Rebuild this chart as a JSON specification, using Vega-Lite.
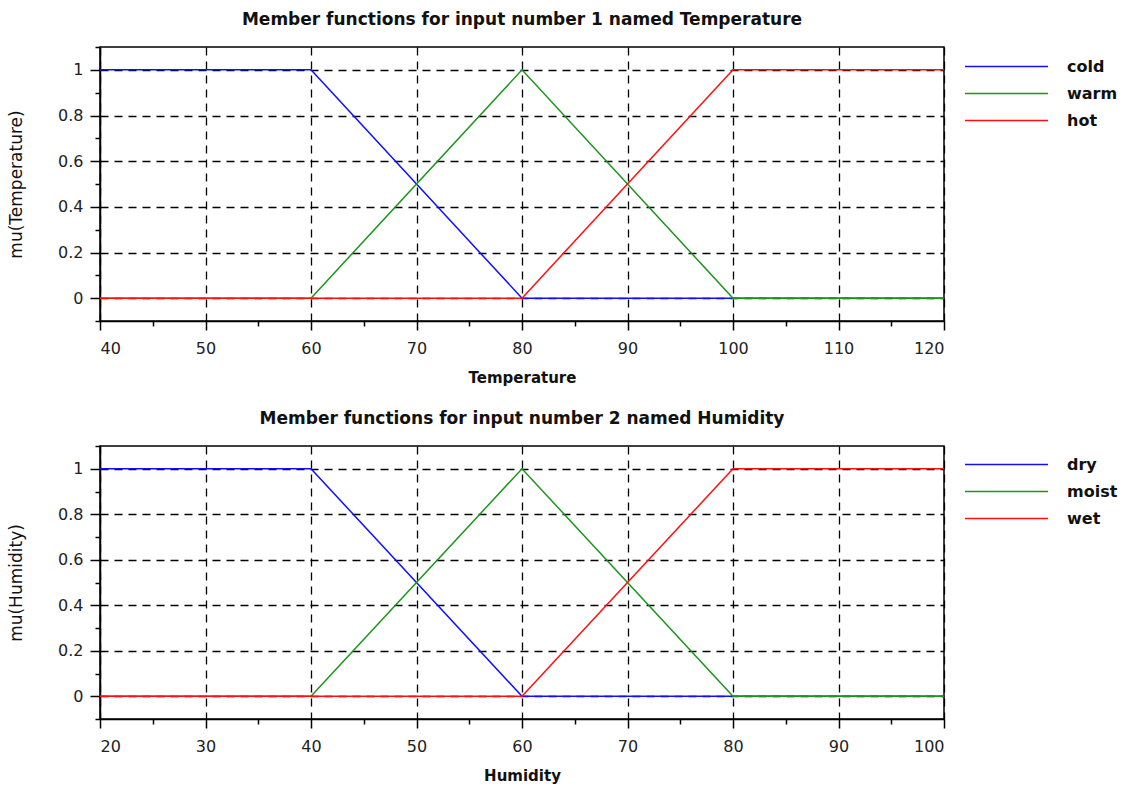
{
  "$schema": "https://vega.github.io/schema/vega-lite/v6.json",
  "background": "white",
  "padding": {"left": 6, "top": 10, "right": 5, "bottom": 2},
  "bounds": "flush",
  "spacing": 125,
  "datasets": {
    "temp": [
      {"x": 40, "mu": 1, "set": "cold"},
      {"x": 60, "mu": 1, "set": "cold"},
      {"x": 80, "mu": 0, "set": "cold"},
      {"x": 120, "mu": 0, "set": "cold"},
      {"x": 40, "mu": 0, "set": "warm"},
      {"x": 60, "mu": 0, "set": "warm"},
      {"x": 80, "mu": 1, "set": "warm"},
      {"x": 100, "mu": 0, "set": "warm"},
      {"x": 120, "mu": 0, "set": "warm"},
      {"x": 40, "mu": 0, "set": "hot"},
      {"x": 80, "mu": 0, "set": "hot"},
      {"x": 100, "mu": 1, "set": "hot"},
      {"x": 120, "mu": 1, "set": "hot"}
    ],
    "hum": [
      {"x": 20, "mu": 1, "set": "dry"},
      {"x": 40, "mu": 1, "set": "dry"},
      {"x": 60, "mu": 0, "set": "dry"},
      {"x": 100, "mu": 0, "set": "dry"},
      {"x": 20, "mu": 0, "set": "moist"},
      {"x": 40, "mu": 0, "set": "moist"},
      {"x": 60, "mu": 1, "set": "moist"},
      {"x": 80, "mu": 0, "set": "moist"},
      {"x": 100, "mu": 0, "set": "moist"},
      {"x": 20, "mu": 0, "set": "wet"},
      {"x": 60, "mu": 0, "set": "wet"},
      {"x": 80, "mu": 1, "set": "wet"},
      {"x": 100, "mu": 1, "set": "wet"}
    ]
  },
  "vconcat": [
    {
      "title": {"text": "Member functions for input number 1 named Temperature"},
      "width": 844,
      "height": 274,
      "data": {"name": "temp"},
      "layer": [
        {
          "mark": {"type": "line", "strokeWidth": 1.5},
          "encoding": {
            "x": {"field": "x", "type": "quantitative",
                  "scale": {"domain": [40, 120], "nice": false, "zero": false},
                  "axis": {"values": [40, 50, 60, 70, 80, 90, 100, 110, 120], "title": "Temperature", "grid": true}},
            "y": {"field": "mu", "type": "quantitative",
                  "scale": {"domain": [-0.1, 1.1], "nice": false, "zero": false},
                  "axis": {"values": [0, 0.2, 0.4, 0.6, 0.8, 1], "format": "~g", "title": "mu(Temperature)", "grid": true}},
            "color": {"field": "set", "type": "nominal",
                      "scale": {"domain": ["cold", "warm", "hot"], "range": ["#1010ff", "#1a961a", "#ff1010"]},
                      "legend": {"orient": "none", "legendX": 893, "legendY": 6}}
          }
        },
        {
          "mark": {"type": "point", "opacity": 0},
          "encoding": {
            "x": {"field": "x", "type": "quantitative",
                  "axis": {"orient": "bottom", "values": [45, 55, 65, 75, 85, 95, 105, 115], "labels": false, "grid": false, "domain": false, "title": null, "tickSize": 5}},
            "y": {"field": "mu", "type": "quantitative",
                  "axis": {"orient": "left", "values": [-0.1, 0.1, 0.3, 0.5, 0.7, 0.9, 1.1], "labels": false, "grid": false, "domain": false, "title": null, "tickSize": 5}}
          }
        }
      ],
      "resolve": {"axis": {"x": "independent", "y": "independent"}}
    },
    {
      "title": {"text": "Member functions for input number 2 named Humidity"},
      "width": 844,
      "height": 273,
      "data": {"name": "hum"},
      "layer": [
        {
          "mark": {"type": "line", "strokeWidth": 1.5},
          "encoding": {
            "x": {"field": "x", "type": "quantitative",
                  "scale": {"domain": [20, 100], "nice": false, "zero": false},
                  "axis": {"values": [20, 30, 40, 50, 60, 70, 80, 90, 100], "title": "Humidity", "grid": true}},
            "y": {"field": "mu", "type": "quantitative",
                  "scale": {"domain": [-0.1, 1.1], "nice": false, "zero": false},
                  "axis": {"values": [0, 0.2, 0.4, 0.6, 0.8, 1], "format": "~g", "title": "mu(Humidity)", "grid": true}},
            "color": {"field": "set", "type": "nominal",
                      "scale": {"domain": ["dry", "moist", "wet"], "range": ["#1010ff", "#1a961a", "#ff1010"]},
                      "legend": {"orient": "none", "legendX": 893, "legendY": 5}}
          }
        },
        {
          "mark": {"type": "point", "opacity": 0},
          "encoding": {
            "x": {"field": "x", "type": "quantitative",
                  "axis": {"orient": "bottom", "values": [25, 35, 45, 55, 65, 75, 85, 95], "labels": false, "grid": false, "domain": false, "title": null, "tickSize": 5}},
            "y": {"field": "mu", "type": "quantitative",
                  "axis": {"orient": "left", "values": [-0.1, 0.1, 0.3, 0.5, 0.7, 0.9, 1.1], "labels": false, "grid": false, "domain": false, "title": null, "tickSize": 5}}
          }
        }
      ],
      "resolve": {"axis": {"x": "independent", "y": "independent"}}
    }
  ],
  "resolve": {"scale": {"color": "independent"}, "legend": {"color": "independent"}},
  "config": {
    "font": "DejaVu Sans",
    "view": {"stroke": "#000", "strokeWidth": 1.5},
    "title": {"font": "DejaVu Sans", "fontSize": 17, "fontWeight": "bold", "color": "#111", "anchor": "middle", "offset": 17},
    "axis": {
      "domainColor": "#000", "domainWidth": 1.5,
      "tickColor": "#000", "tickWidth": 1.5,
      "gridColor": "#000", "gridDash": [8, 6], "gridWidth": 1.3, "gridOpacity": 1,
      "labelFont": "DejaVu Sans", "labelFontSize": 16, "labelColor": "#222",
      "titleFont": "DejaVu Sans", "titleFontSize": 16, "titleColor": "#111"
    },
    "axisX": {"tickSize": 9, "labelPadding": 10, "titlePadding": 14, "titleFontWeight": "bold", "titleFontSize": 15},
    "axisY": {"tickSize": 10, "labelPadding": 7, "titlePadding": 32, "titleFontWeight": "normal", "titleFontSize": 17},
    "legend": {
      "title": null, "padding": 0,
      "symbolType": "M-3.32,0H3.32", "symbolSize": 625, "symbolStrokeWidth": 1.5,
      "labelFont": "DejaVu Sans", "labelFontSize": 16, "labelFontWeight": "bold", "labelColor": "#111",
      "labelOffset": 47, "rowPadding": 5
    }
  }
}
